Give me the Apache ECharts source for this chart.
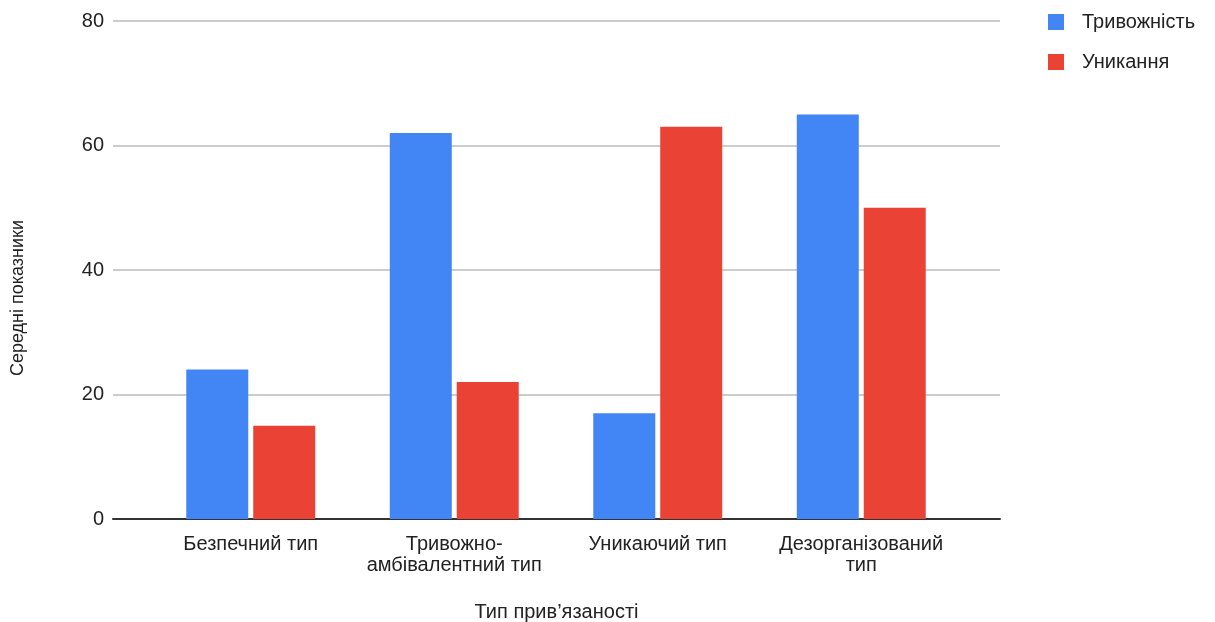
<!DOCTYPE html>
<html><head><meta charset="utf-8">
<script src="https://cdn.jsdelivr.net/npm/echarts@6/dist/echarts.min.js"></script>
<style>html,body{margin:0;padding:0;background:#fff}#c{width:1215px;height:622px}</style>
</head><body><div id="c"></div>
<script>
const categories = ['Безпечний тип', 'Тривожно-\nамбівалентний тип', 'Уникаючий тип', 'Дезорганізований\nтип'];
const anxiety = [24, 62, 17, 65];
const avoidance = [15, 22, 63, 50];
const seriesNames = ['Тривожність', 'Уникання'];
const yTicks = {min: 0, max: 80, interval: 20};

const font = 'Liberation Sans, Arial, sans-serif';
const chart = echarts.init(document.getElementById('c'));
chart.setOption({
  animation: false,
  textStyle: {fontFamily: font},
  legend: {
    orient: 'vertical', left: 1048, top: 12, padding: 0, itemWidth: 16, itemHeight: 16, itemGap: 20,
    icon: 'rect',
    textStyle: {fontSize: 20, lineHeight: 20, color: '#222', fontFamily: font, padding: [0, 0, 0, 13]},
    data: seriesNames
  },
  grid: [
    {left: 113, right: 215, top: 21, bottom: 103, outerBoundsMode: 'none', containLabel: false},
    {left: 149, right: 252, top: 21, bottom: 103, outerBoundsMode: 'none', containLabel: false}
  ],
  xAxis: [
    {type: 'category', gridIndex: 0, data: categories, axisLabel: {show: false}, axisTick: {show: false},
     axisLine: {lineStyle: {color: '#333', width: 2}},
     name: 'Тип прив’язаності', nameLocation: 'middle', nameGap: 83,
     nameTextStyle: {fontSize: 20, color: '#222', fontFamily: font}},
    {type: 'category', gridIndex: 1, data: categories, axisTick: {show: false}, axisLine: {show: false},
     axisLabel: {fontSize: 20, color: '#222', fontFamily: font, margin: 15, lineHeight: 21, interval: 0}}
  ],
  yAxis: [
    {type: 'value', gridIndex: 0, min: yTicks.min, max: yTicks.max, interval: yTicks.interval,
     axisLabel: {fontSize: 20, color: '#222', fontFamily: font, margin: 9},
     axisLine: {show: false}, axisTick: {show: false},
     splitLine: {lineStyle: {color: '#cccccc', width: 2}},
     name: 'Середні показники', nameLocation: 'middle', nameGap: 86,
     nameTextStyle: {fontSize: 18, color: '#222', fontFamily: font, padding: [0, 0, 0, -56]}},
    {type: 'value', gridIndex: 1, min: yTicks.min, max: yTicks.max, interval: yTicks.interval, show: false}
  ],
  series: [
    {name: seriesNames[0], type: 'bar', xAxisIndex: 1, yAxisIndex: 1, data: anxiety, barWidth: 62, barGap: '8%',
     itemStyle: {color: '#4285F4'}},
    {name: seriesNames[1], type: 'bar', xAxisIndex: 1, yAxisIndex: 1, data: avoidance, barWidth: 62, barGap: '8%',
     itemStyle: {color: '#EA4335'}}
  ]
});
</script></body></html>
